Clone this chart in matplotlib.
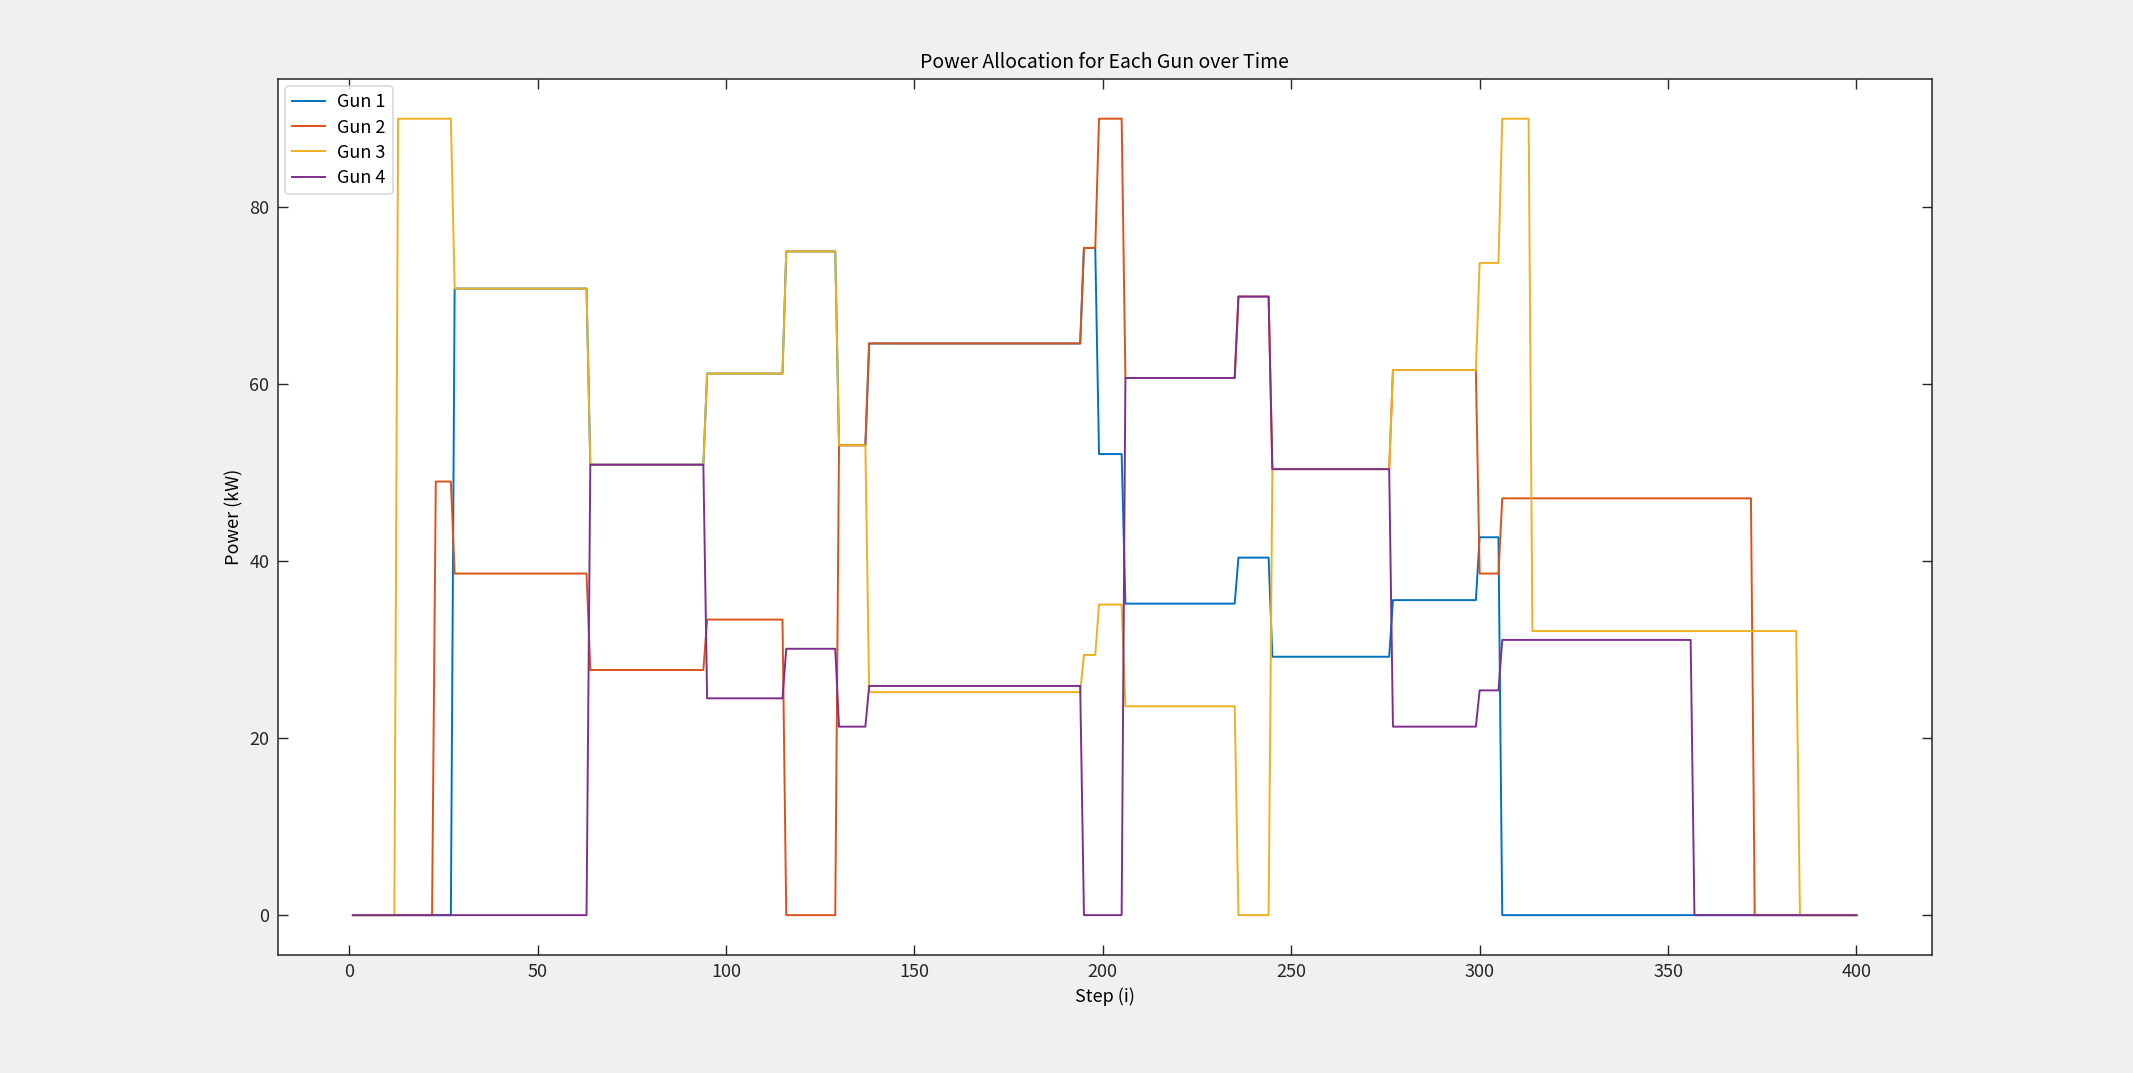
import numpy as np
import matplotlib
matplotlib.use("Agg")
import matplotlib.pyplot as plt

plt.rcParams['font.family'] = ['Noto Sans CJK SC', 'DejaVu Sans']

# steps 1..400, each gun holds a constant power between change points
steps = np.arange(1, 401)

gun1_start = [1, 28, 64, 95, 116, 130, 138, 195, 199, 206, 236, 245, 277, 300, 306]
gun1_value = [0, 70.8, 50.9, 61.2, 75.0, 53.1, 64.6, 75.4, 52.1, 35.2, 40.4, 29.2, 35.6, 42.7, 0]

gun2_start = [1, 23, 28, 64, 95, 116, 130, 138, 195, 199, 206, 236, 245, 277, 300, 306, 373]
gun2_value = [0, 49.0, 38.6, 27.7, 33.4, 0, 53.1, 64.6, 75.4, 90.0, 60.7, 69.9, 50.4, 61.6, 38.6, 47.1, 0]

gun3_start = [1, 13, 28, 64, 95, 116, 130, 138, 195, 199, 206, 236, 245, 277, 300, 306, 314, 385]
gun3_value = [0, 90.0, 70.8, 50.9, 61.2, 75.0, 53.1, 25.2, 29.4, 35.1, 23.6, 0, 50.4, 61.6, 73.7, 90.0, 32.1, 0]

gun4_start = [1, 64, 95, 116, 130, 138, 195, 206, 236, 245, 277, 300, 306, 357]
gun4_value = [0, 50.9, 24.5, 30.1, 21.3, 25.9, 0, 60.7, 69.9, 50.4, 21.3, 25.4, 31.1, 0]

labels = ['Gun 1', 'Gun 2', 'Gun 3', 'Gun 4']
colors = ['#0072BD', '#D95319', '#EDB120', '#7E2F8E']


def expand(starts, values):
    idx = np.searchsorted(starts, steps, side='right') - 1
    return np.asarray(values, dtype=float)[idx]


series = [expand(gun1_start, gun1_value), expand(gun2_start, gun2_value),
          expand(gun3_start, gun3_value), expand(gun4_start, gun4_value)]

fig = plt.figure(figsize=(21.33, 10.73), dpi=100, facecolor='#f0f0f0')
ax = fig.add_axes([0.1302, 0.110, 0.9056 - 0.1302, 0.9265 - 0.110])
ax.set_facecolor('white')

for y, lab, c in zip(series, labels, colors):
    ax.plot(steps, y, color=c, lw=1.4, label=lab)

# matlab-style padding around data range
ax.set_xlim(-18.95, 419.95)
ax.set_ylim(-4.5, 94.5)
ax.set_xticks(np.arange(0, 401, 50))
ax.set_yticks(np.arange(0, 81, 20))

ax.tick_params(direction='in', top=True, right=True, length=7, width=1,
               labelsize=13, colors='#262626', pad=6)
for s in ax.spines.values():
    s.set_color('#262626')
    s.set_linewidth(1.1)

ax.set_title('Power Allocation for Each Gun over Time', fontsize=14, color='black', pad=8)
ax.set_xlabel('Step (i)', fontsize=13, color='black')
ax.set_ylabel('Power (kW)', fontsize=13, color='black')

leg = ax.legend(loc='upper left', fontsize=13, frameon=True, fancybox=True,
                edgecolor='#d0d0d0', handlelength=1.8, handletextpad=0.7,
                borderaxespad=0.4, labelspacing=0.4, borderpad=0.4)
leg.get_frame().set_linewidth(1.2)

fig.savefig('out.png', dpi=100, facecolor=fig.get_facecolor())
